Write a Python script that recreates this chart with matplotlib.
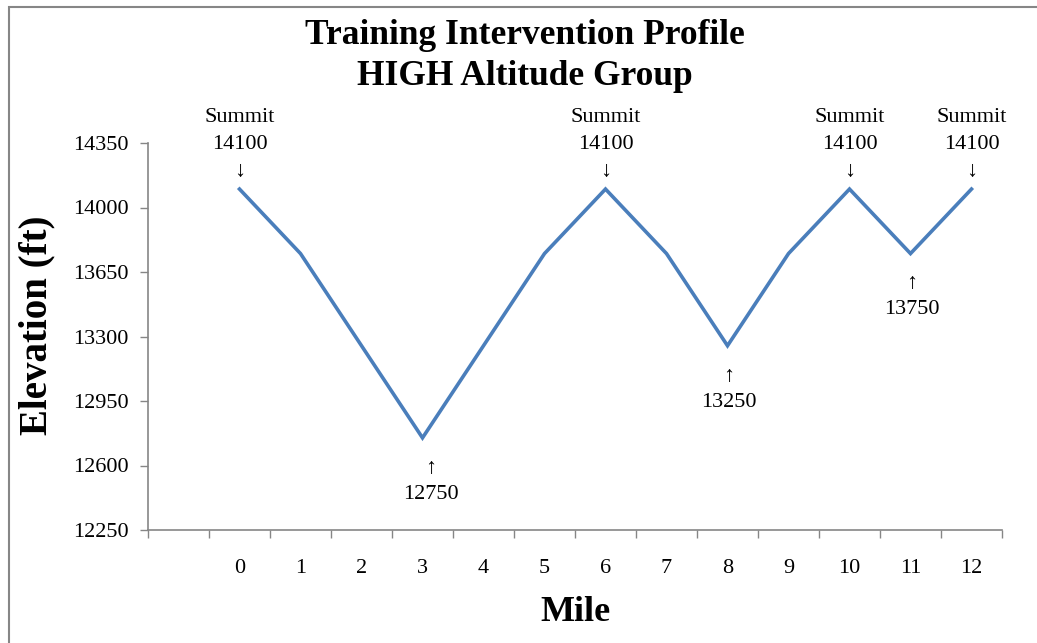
import matplotlib
matplotlib.use("Agg")
import matplotlib.pyplot as plt
from matplotlib.patches import Rectangle
from matplotlib.ticker import FixedLocator

# dados do perfil
milhas = ["0", "1", "2", "3", "4", "5", "6", "7", "8", "9", "10", "11", "12"]
elevacao = [14100, 13750, 13250, 12750, 13250, 13750, 14100, 13750, 13250, 13750, 14100, 13750, 14100]
categorias = [""] + milhas  # primeira categoria vazia, como no original

picos_idx = [0, 6, 10, 12]
vales_idx = [3, 8, 11]

y_ticks = [12250, 12600, 12950, 13300, 13650, 14000, 14350]

plt.rcParams['font.family'] = ['Liberation Serif', 'DejaVu Serif']

fig = plt.figure(figsize=(10.37, 6.43), dpi=100)
ax = fig.add_axes([148 / 1037, 1 - 530 / 643, (1002 - 148) / 1037, (530 - 143) / 643])

cinza = '#868686'
azul = '#4A7EBB'

xs = list(range(1, len(categorias)))
ax.plot(xs, elevacao, color=azul, linewidth=2.6, solid_joinstyle='miter')

ax.set_xlim(-0.5, len(categorias) - 0.5)
ax.set_ylim(y_ticks[0], y_ticks[-1])

ax.set_xticks(range(len(categorias)))
ax.set_xticklabels(categorias, fontsize=16)
ax.xaxis.set_minor_locator(FixedLocator([i - 0.5 for i in range(len(categorias) + 1)]))
ax.tick_params(axis='x', which='major', length=0, pad=21)
ax.tick_params(axis='x', which='minor', length=6, width=1, color=cinza, direction='out')

ax.set_yticks(y_ticks)
ax.set_yticklabels([str(v) for v in y_ticks], fontsize=16)
ax.tick_params(axis='y', length=6, width=1, color=cinza, direction='out', pad=8)

for s in ['top', 'right']:
    ax.spines[s].set_visible(False)
for s in ['left', 'bottom']:
    ax.spines[s].set_color(cinza)
    ax.spines[s].set_linewidth(1.2)

# rótulos dos picos
for i in picos_idx:
    ax.annotate(f"Summit\n{elevacao[i]}\n↓", xy=(xs[i], elevacao[i]), xytext=(0, 6),
                textcoords='offset points', ha='center', va='bottom', fontsize=16,
                linespacing=1.55)

# rótulos dos vales
offs = {3: 6, 8: 1, 11: 1}
for i in vales_idx:
    ax.annotate(f"↑\n{elevacao[i]}", xy=(xs[i], elevacao[i]), xytext=(offs[i], -15),
                textcoords='offset points', ha='center', va='top', fontsize=16,
                linespacing=1.5)

ax.set_xlabel('Mile', fontsize=26, fontweight='bold', labelpad=13)
ax.set_ylabel('Elevation (ft)', fontsize=28, fontweight='bold')
ax.yaxis.set_label_coords(-0.108, 0.53)

fig.text(525 / 1037, 1 - 56 / 643, 'Training Intervention Profile\nHIGH Altitude Group',
         ha='center', va='center', fontsize=25.5, fontweight='bold', linespacing=1.3)

# moldura externa
fig.patches.append(Rectangle((9 / 1037, -0.1), 1.5, 1.1 - 7 / 643, transform=fig.transFigure,
                             fill=False, edgecolor=cinza, linewidth=1.5))

fig.savefig('out.png', dpi=100, facecolor='white')
